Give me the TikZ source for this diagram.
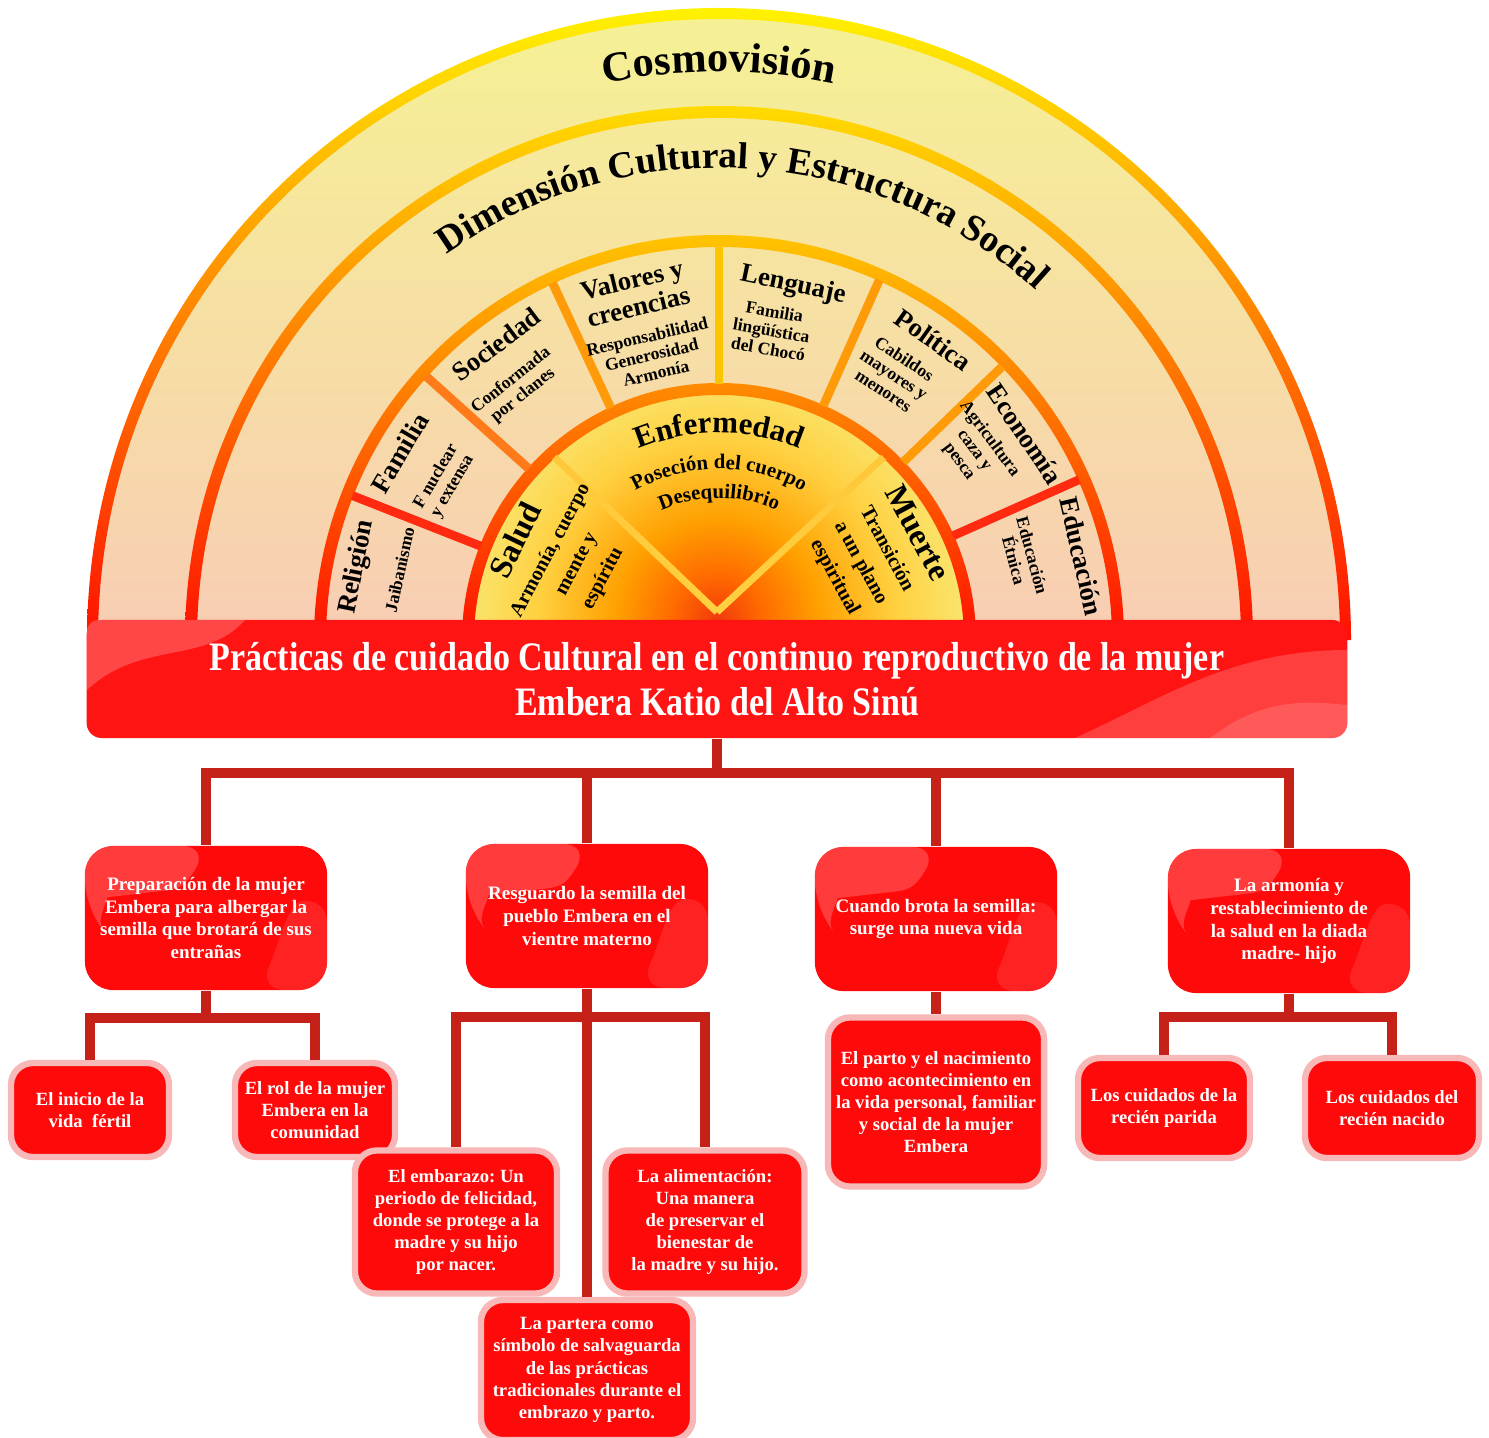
\documentclass[tikz,border=0pt]{standalone}
\usepackage{fontspec}
\setmainfont{Liberation Serif}
\newfontfamily\bannerfont[FakeStretch=0.84]{Liberation Serif}
\usetikzlibrary{positioning, calc, decorations.text}
\frenchspacing

\definecolor{paleyellow}{HTML}{F5F194}
\definecolor{peach}{HTML}{F8CDB4}
\definecolor{coreyellow}{HTML}{F6F28A}
\definecolor{ringyellow}{HTML}{FFF200}
\definecolor{ringgold}{HTML}{FFC400}
\definecolor{ringorange}{HTML}{FF8C00}
\definecolor{ringred}{HTML}{FF1000}
\definecolor{spokered}{HTML}{FF2A10}
\definecolor{spokeorange}{HTML}{FF7A18}
\definecolor{spokegold}{HTML}{FF9A08}
\definecolor{glowA}{HTML}{F23A0C}
\definecolor{glowB}{HTML}{FF6A00}
\definecolor{glowC}{HTML}{FFA000}
\definecolor{glowD}{HTML}{FFD040}
\definecolor{bannerred}{HTML}{FF1414}
\definecolor{boxred}{HTML}{FF0A0A}
\definecolor{linkred}{HTML}{C62118}
\definecolor{leafpink}{HTML}{F8B8B8}

\pgfdeclareradialshading{sunglow}{\pgfpoint{0bp}{0bp}}{color(0bp)=(glowA); color(4bp)=(glowB); color(9bp)=(glowC); color(16bp)=(glowD); color(26bp)=(coreyellow); color(50bp)=(coreyellow)}

\tikzset{
  ringtitle/.style={font=\bfseries\fontsize{7.6}{6.6}\selectfont, align=center, inner sep=0pt},
  ringsub/.style={font=\bfseries\fontsize{5}{5.4}\selectfont, align=center, inner sep=0pt},
  coretitle/.style={font=\bfseries\fontsize{9.2}{9}\selectfont, inner sep=0pt},
  coresub/.style={font=\bfseries\fontsize{5.8}{8.4}\selectfont, align=center, inner sep=0pt},
  spoke/.style={line width=2.5pt},
  banner/.style={rectangle, rounded corners=0.15cm, fill=bannerred, text=white, align=center,
    minimum width=12.6cm, minimum height=1.18cm, font=\bannerfont\bfseries\fontsize{11.5}{12.8}\selectfont},
  topicbox/.style={rectangle, rounded corners=0.28cm, fill=boxred, text=white, align=center,
    minimum width=2.42cm, minimum height=1.44cm, inner sep=2pt, font=\bfseries\fontsize{5.4}{6.5}\selectfont,
    path picture={
      \fill[white, opacity=0.2] (path picture bounding box.north west) -- ++(125,0)
        .. controls +(-25,-40) and +(45,5) .. ++(-75,-48)
        .. controls +(-25,-3) and +(10,-12) .. ++(-50,-14) -- cycle;
      \fill[white, opacity=0.1] (path picture bounding box.south east) -- ++(0,95)
        .. controls +(-40,-10) and +(20,40) .. ++(-70,-95) -- cycle;}},
  leafbox/.style={rectangle, rounded corners=0.22cm, fill=boxred, draw=leafpink, line width=1.8pt,
    text=white, align=center, inner sep=2pt, font=\bfseries\fontsize{5.3}{6.3}\selectfont},
  link/.style={draw=linkred, line width=2.6pt}
}

\begin{document}
\begin{tikzpicture}[x=0.01cm, y=0.01cm]
\useasboundingbox (0,0) rectangle (1489,-1437);
\fill[white] (0,0) rectangle (1489,-1437);

\coordinate (C) at (719,-640);
\coordinate (O) at (717,-612);

% background of the arch
\shade[top color=paleyellow, middle color=paleyellow, bottom color=peach]
  ($(C)+(0:627)$) arc[start angle=0, end angle=180, radius=627] -- cycle;

% core with the glow
\fill[coreyellow] ($(C)+(0:251)$) arc[start angle=0, end angle=180, radius=251] -- cycle;
\begin{scope}
  \clip ($(C)+(0:251)$) arc[start angle=0, end angle=180, radius=251] -- cycle;
  \shade[shading=sunglow] (717,-620) circle[radius=280];
\end{scope}

% rings
\shade[top color=ringyellow, middle color=ringgold!60!ringyellow, bottom color=ringred]
  ($(C)+(0:632)$) arc[start angle=0, end angle=180, radius=632]
  -- ($(C)+(180:621)$) arc[start angle=180, end angle=0, radius=621] -- cycle;
\shade[top color=ringyellow!50!ringgold, middle color=ringgold!80!ringorange, bottom color=ringred]
  ($(C)+(0:534)$) arc[start angle=0, end angle=180, radius=534]
  -- ($(C)+(180:522)$) arc[start angle=180, end angle=0, radius=522] -- cycle;
\shade[top color=ringgold, middle color=ringorange!55!ringred, bottom color=ringred]
  ($(C)+(0:405)$) arc[start angle=0, end angle=180, radius=405]
  -- ($(C)+(180:393)$) arc[start angle=180, end angle=0, radius=393] -- cycle;
\shade[top color=ringorange, middle color=ringorange!50!ringred, bottom color=ringred]
  ($(C)+(0:257)$) arc[start angle=0, end angle=180, radius=257]
  -- ($(C)+(180:245)$) arc[start angle=180, end angle=0, radius=245] -- cycle;

% spokes of the middle ring
\foreach \a/\c in {158.5/spokered, 138/spokeorange, 115/spokegold, 90/ringgold,
                   66/spokegold, 44/spokegold, 24/spokered}
  \draw[spoke, draw=\c] ($(C)+(\a:256)$) -- ($(C)+(\a:394)$);

% spokes of the core
\coordinate (e48) at ($(C)+(48:246)$);
\coordinate (e132) at ($(C)+(132:246)$);
\foreach \a in {48,132}
  \foreach \k [evaluate=\k as \p using int(100-10*\k)] in {0,...,9}
    \draw[line width=2pt, draw=glowB!\p!glowD]
      ($(O)!\k/10!(e\a)$) -- ($(O)!{(\k+1)/10}!(e\a)$);

% arched titles
\path[decorate, decoration={text along path, text align=center,
  text={|\bfseries\fontsize{12}{14}\selectfont|Cosmovisión}}]
  ($(C)+(170:568)$) arc[start angle=170, end angle=10, radius=568];
\path[decorate, decoration={text along path, text align=center,
  text={|\bfseries\fontsize{10.7}{12}\selectfont|Dimensión Cultural y Estructura Social}}]
  ($(C)+(175:472)$) arc[start angle=175, end angle=-2, radius=472];

% middle ring
\node[ringtitle, rotate=78.6] (religion) at ($(C)+(168.6:369)$) {Religión};
\node[ringsub, rotate=77.6] (jaibanismo) at ($(C)+(167.6:327)$) {Jaibanismo};
\node[ringtitle, rotate=59.6] (familia) at ($(C)+(149.6:370)$) {Familia};
\node[ringsub, rotate=60] (nuclear) at ($(C)+(150:317)$) {F nuclear\\y extensa};
\node[ringtitle, rotate=37] (sociedad) at ($(C)+(127:370)$) {Sociedad};
\node[ringsub, rotate=38.7] (clanes) at ($(C)+(128.7:323)$) {Conformada\\por clanes};
\node[ringtitle, rotate=13.6] (valores) at ($(C)+(103.6:357)$) {Valores y\\creencias};
\node[ringsub, rotate=13.3] (armonia) at ($(C)+(103.3:293)$) {Responsabilidad\\Generosidad\\Armonía};
\node[ringtitle, rotate=-11.8] (lenguaje) at ($(C)+(78.2:362)$) {Lenguaje};
\node[ringsub, rotate=-9.6] (choco) at ($(C)+(80.4:314)$) {Familia\\lingüística\\del Chocó};
\node[ringtitle, rotate=-35.5] (politica) at ($(C)+(54.5:369)$) {Política};
\node[ringsub, rotate=-33.4] (cabildos) at ($(C)+(56.6:318)$) {Cabildos\\mayores y\\menores};
\node[ringtitle, rotate=-56] (economia) at ($(C)+(34:369)$) {Economía};
\node[ringsub, rotate=-53.4] (agricultura) at ($(C)+(36.6:318)$) {Agricultura\\caza y\\pesca};
\node[ringtitle, rotate=-77] (educacion) at ($(C)+(13:372)$) {Educación};
\node[ringsub, rotate=-74.9] (etnica) at ($(C)+(15.1:315)$) {Educación\\Étnica};

% core
\node[coretitle, rotate=63.9] (salud) at ($(C)+(153.9:227)$) {Salud};
\node[coresub, rotate=62] (cuerpo) at ($(C)+(152:161)$) {Armonía, cuerpo\\mente y\\espíritu};
\path[decorate, decoration={text along path, text align=center,
  text={|\bfseries\fontsize{8.8}{10}\selectfont|Enfermedad}}]
  ($(C)+(150:207)$) arc[start angle=150, end angle=30, radius=207];
\path[decorate, decoration={text along path, text align=center,
  text={|\bfseries\fontsize{5.9}{7}\selectfont|Poseción del cuerpo}}]
  ($(C)+(150:171)$) arc[start angle=150, end angle=30, radius=171];
\path[decorate, decoration={text along path, text align=center,
  text={|\bfseries\fontsize{5.9}{7}\selectfont|Desequilibrio}}]
  ($(C)+(150:142)$) arc[start angle=150, end angle=30, radius=142];
\node[coretitle, rotate=-61.7] (muerte) at ($(C)+(28.3:226)$) {Muerte};
\node[coresub, rotate=-61.5] (transicion) at ($(C)+(28.5:161)$) {Transición\\a un plano\\espiritual};

% banner
\node[banner] (title) at (717,-679) {Prácticas de cuidado Cultural en el continuo reproductivo de la mujer\\Embera Katio del Alto Sinú};
\begin{scope}
  \clip[rounded corners=0.15cm] (title.north west) rectangle (title.south east);
  \fill[white, opacity=0.22] (87,-620) -- (245,-620) .. controls (205,-665) and (140,-640) .. (87,-690) -- cycle;
  \fill[white, opacity=0.18] (1075,-738) .. controls (1160,-700) and (1230,-650) .. (1347,-650) -- (1347,-738) -- cycle;
  \fill[white, opacity=0.15] (1210,-738) .. controls (1260,-700) and (1300,-700) .. (1347,-705) -- (1347,-738) -- cycle;
\end{scope}

% first level
\node[topicbox] (prep) at (206,-918) {Preparación de la mujer\\Embera para albergar la\\semilla que brotará de sus\\entrañas};
\node[topicbox] (resguardo) at (587,-916) {Resguardo la semilla del\\pueblo Embera en el\\vientre materno};
\node[topicbox] (brota) at (936,-919) {Cuando brota la semilla:\\surge una nueva vida};
\node[topicbox] (diada) at (1289,-921) {La armonía y\\restablecimiento de\\la salud en la diada\\madre- hijo};

% second level
\node[leafbox, minimum width=1.58cm, minimum height=0.94cm] (inicio) at (90,-1110) {El inicio de la\\vida~~fértil};
\node[leafbox, minimum width=1.6cm, minimum height=0.94cm] (rol) at (315,-1110) {El rol de la mujer\\Embera en la\\comunidad};
\node[leafbox, minimum width=2.02cm, minimum height=1.43cm] (embarazo) at (456,-1222) {El embarazo: Un\\periodo de felicidad,\\donde se protege a la\\madre y su hijo\\por nacer.};
\node[leafbox, minimum width=1.99cm, minimum height=1.43cm] (alimento) at (705,-1222) {La alimentación:\\Una manera\\de preservar el\\bienestar de\\la madre y su hijo.};
\node[leafbox, minimum width=2.12cm, minimum height=1.4cm] (partera) at (587,-1370) {La partera como\\símbolo de salvaguarda\\de las prácticas\\tradicionales durante el\\embrazo y parto.};
\node[leafbox, minimum width=2.16cm, minimum height=1.69cm] (parto) at (936,-1102) {El parto y el nacimiento\\como acontecimiento en\\la vida personal, familiar\\y social de la mujer\\Embera};
\node[leafbox, minimum width=1.72cm, minimum height=1cm] (parida) at (1164,-1108) {Los cuidados de la\\recién parida};
\node[leafbox, minimum width=1.74cm, minimum height=1cm] (nacido) at (1392,-1108) {Los cuidados del\\recién nacido};

% connectors
\coordinate (bus) at (717,-773);
\coordinate (prepbus) at (206,-1018);
\coordinate (resgbus) at (587,-1017);
\coordinate (diadabus) at (1289,-1017);
\draw[link] (title.south) -- (bus);
\draw[link] (prep.north) -- (prep.north |- bus) -- (diada.north |- bus) -- (diada.north);
\draw[link] (resguardo.north) -- (resguardo.north |- bus);
\draw[link] (brota.north) -- (brota.north |- bus);
\draw[link] (prep.south) -- (prepbus);
\draw[link] (inicio.north) -- (inicio.north |- prepbus) -- (rol.north |- prepbus) -- (rol.north);
\draw[link] (resguardo.south) -- (resgbus);
\draw[link] (embarazo.north) -- (embarazo.north |- resgbus) -- (alimento.north |- resgbus) -- (alimento.north);
\draw[link] (resgbus) -- (partera.north);
\draw[link] (brota.south) -- (parto.north);
\draw[link] (diada.south) -- (diadabus);
\draw[link] (parida.north) -- (parida.north |- diadabus) -- (nacido.north |- diadabus) -- (nacido.north);
\end{tikzpicture}
\end{document}
